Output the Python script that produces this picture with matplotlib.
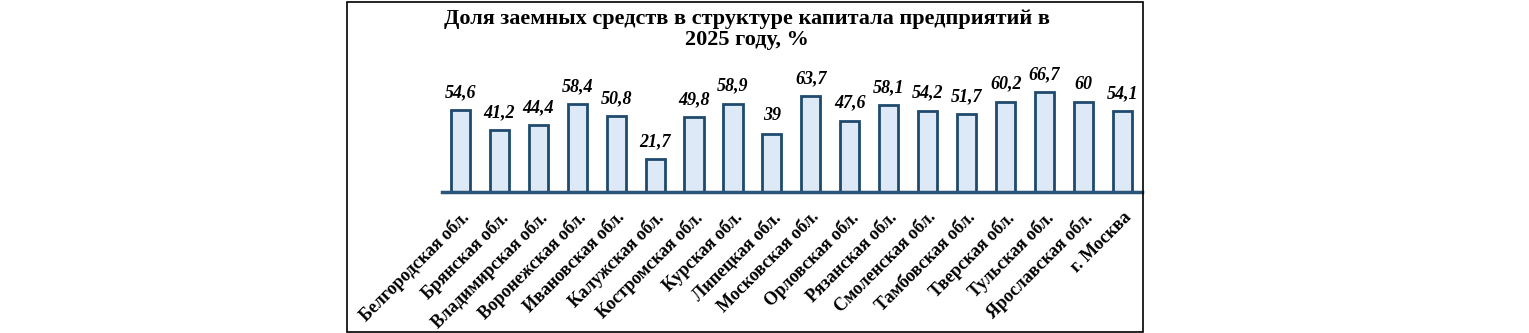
import matplotlib.pyplot as plt
from matplotlib.patches import Rectangle

regions = ["Белгородская обл.", "Брянская обл.", "Владимирская обл.", "Воронежская обл.",
           "Ивановская обл.", "Калужская обл.", "Костромская обл.", "Курская обл.",
           "Липецкая обл.", "Московская обл.", "Орловская обл.", "Рязанская обл.",
           "Смоленская обл.", "Тамбовская обл.", "Тверская обл.", "Тульская обл.",
           "Ярославская обл.", "г. Москва"]
share = [54.6, 41.2, 44.4, 58.4, 50.8, 21.7, 49.8, 58.9, 39, 63.7, 47.6, 58.1,
         54.2, 51.7, 60.2, 66.7, 60, 54.1]

plt.rcParams['font.family'] = ['Liberation Serif', 'DejaVu Serif']

fig = plt.figure(figsize=(15.29, 3.33), dpi=100)
fig.patches.append(Rectangle((347 / 1529, 1 / 333), 796 / 1529, 330 / 333,
                             transform=fig.transFigure, fill=False,
                             edgecolor='black', linewidth=1.2))

ax = fig.add_axes([442 / 1529, 1 - 192 / 333, 700 / 1529, 117 / 333])
x = range(len(regions))
ax.bar(x, share, width=0.49, color='#dde9f6', edgecolor='#1f4a6e', linewidth=2)
for i, v in enumerate(share):
    ax.text(i, v + 6, f"{v:g}".replace('.', ','), ha='center', va='bottom',
            fontsize=13, fontweight='bold', fontstyle='italic')

ax.set_xlim(-0.47, 17.5)
ax.set_ylim(0, 78)
for s in ['top', 'right', 'left']:
    ax.spines[s].set_visible(False)
ax.spines['bottom'].set_color('#2a5478')
ax.spines['bottom'].set_linewidth(2.5)
ax.set_yticks([])
ax.set_xticks(list(x))
ax.set_xticklabels(regions, rotation=45, ha='right', va='top', rotation_mode='anchor',
                   fontsize=13, fontweight='bold')
ax.tick_params(axis='x', length=0, pad=12)

fig.text(747 / 1529, 1 - 9 / 333,
         "Доля заемных средств в структуре капитала предприятий в\n2025 году, %",
         ha='center', va='top', fontsize=16, fontweight='bold', linespacing=1.1)

fig.savefig('out.png', dpi=100)
